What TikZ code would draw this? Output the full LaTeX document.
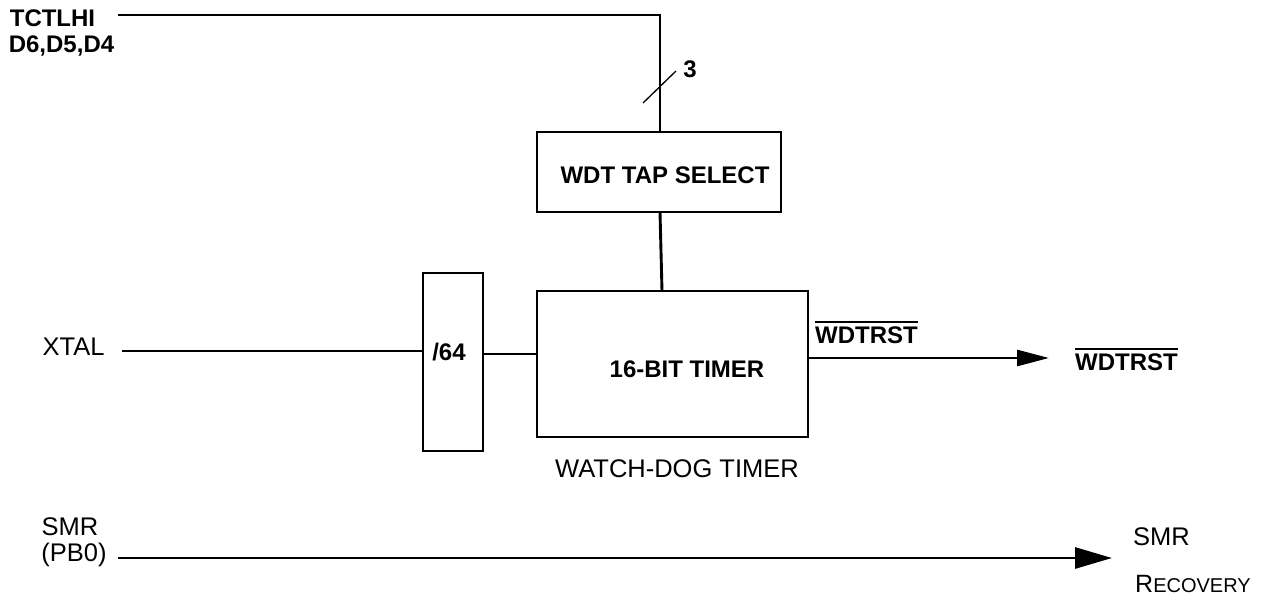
\documentclass[tikz,border=0pt]{standalone}
\usepackage{fontspec}
\setmainfont{Liberation Sans}
\usetikzlibrary{arrows.meta}
\newcommand\ovl[1]{\leavevmode\vbox{\hrule height 2pt\kern3pt\hbox{#1}}}
\begin{document}
\begin{tikzpicture}[x=1pt,y=-1pt,
  wire/.style={line width=2.9pt},
  blk/.style={draw,line width=2.9pt,minimum width=0pt,inner sep=0pt},
  lbl/.style={font=\fontsize{25.5}{30}\selectfont,inner sep=0pt},
  blbl/.style={font=\fontsize{24}{28}\selectfont\bfseries,inner sep=0pt},
  tipa/.style={-{Triangle[length=32pt,width=16pt]}},
  tipb/.style={-{Triangle[length=37pt,width=21pt]}}]
\useasboundingbox (0,0) rectangle (1275,599);
% boxes
\node[blk,minimum width=244pt,minimum height=80pt] (tap) at (659,172) {};
\node[blbl,anchor=base] at (665,183) {WDT TAP SELECT};
\node[blk,minimum width=271pt,minimum height=146pt] (tmr) at (672.5,364) {};
\node[blbl,anchor=base] at (687,377) {16-BIT TIMER};
\node[blk,minimum width=60pt,minimum height=178pt] (div) at (453,362) {};
\node[blbl,anchor=base] at (449,360) {/64};
\node[lbl,anchor=base] (wdg) at (677,477) {WATCH-DOG TIMER};
% inputs
\node[blbl,anchor=base] (tct) at (52.5,27) {TCTLHI};
\node[blbl,anchor=base] (dd) at (61.5,53) {D6,D5,D4};
\coordinate (c1) at (118,15);
\coordinate (c2) at (660,15);
\draw[wire] (c1) -- (c2) -- (c2 |- tap.north);
\coordinate (s1) at (643,103);
\coordinate (s2) at (676,71);
\draw[line width=1.3pt] (s1) -- (s2);
\node[blbl,anchor=base] (three) at (690,78) {3};
\draw[wire] (660,212) -- (662,291);
\node[lbl,anchor=base] (xtal) at (73.5,355) {XTAL};
\coordinate (x1) at (122,351);
\draw[wire] (x1) -- (x1 -| div.west);
\draw[wire] (div.east |- 0,354) -- (tmr.west |- 0,354);
% output
\node[blbl,anchor=base west] (w1) at (815,343) {\ovl{WDTRST}};
\coordinate (o1) at (1049,358);
\draw[wire,tipa] (tmr.east |- o1) -- (o1);
\node[blbl,anchor=base west] (w2) at (1075,370) {\ovl{WDTRST}};
% SMR
\node[lbl,anchor=base] (smr) at (70,535) {SMR};
\node[lbl,anchor=base] (pb) at (74,561) {(PB0)};
\coordinate (m1) at (118,558);
\coordinate (m2) at (1112,558);
\draw[wire,tipb] (m1) -- (m2);
\node[lbl,anchor=base west] (smr2) at (1133,545) {SMR};
\node[anchor=base west,inner sep=0pt] (rec) at (1135,592) {\fontsize{25}{30}\selectfont R\fontsize{20}{24}\selectfont ECOVERY};
\end{tikzpicture}
\end{document}
